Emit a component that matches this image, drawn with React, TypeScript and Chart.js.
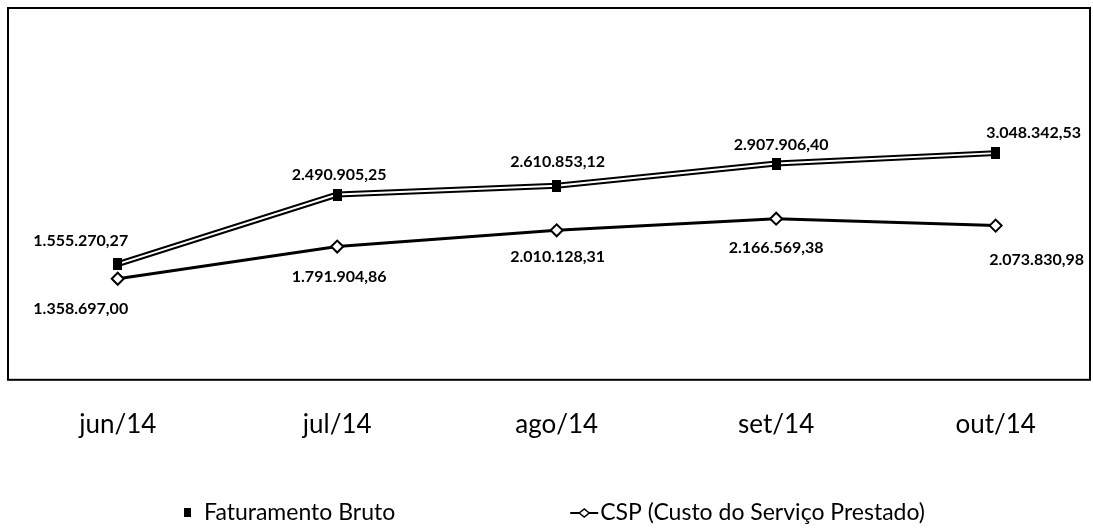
import React, { useEffect, useRef } from "react";
import { Chart, registerables } from "chart.js";

Chart.register(...registerables);

const categories = ["jun/14", "jul/14", "ago/14", "set/14", "out/14"];
const faturamentoBruto = [1555270.27, 2490905.25, 2610853.12, 2907906.4, 3048342.53];
const cspValues = [1358697.0, 1791904.86, 2010128.31, 2166569.38, 2073830.98];
const seriesNames = ["Faturamento Bruto", "CSP (Custo do Serviço Prestado)"];

// label offsets (dx, dy) relative to each point
const fatLabelOffsets = [[-37, -23], [2, -20], [1, -24], [5, -19], [38, -20]];
const cspLabelOffsets = [[-37, 30], [2, 30], [1, 27], [0, 29], [41, 34]];

const FONT = "Lato, sans-serif";

function fmtBR(v: number): string {
  const [int, dec] = v.toFixed(2).split(".");
  const withDots = int.replace(/\B(?=(\d{3})+(?!\d))/g, ".");
  return withDots + "," + dec;
}

function makeRectMarker(): HTMLCanvasElement {
  const c = document.createElement("canvas");
  c.width = 9;
  c.height = 12;
  const g = c.getContext("2d")!;
  g.fillStyle = "#000";
  g.fillRect(0, 0, 9, 12);
  return c;
}

const boxPlugin = {
  id: "boxPlugin",
  beforeDatasetsDraw(chart: any) {
    const { ctx, chartArea } = chart;
    ctx.save();
    ctx.strokeStyle = "#000";
    ctx.lineWidth = 2;
    ctx.strokeRect(chartArea.left, chartArea.top, chartArea.right - chartArea.left, chartArea.bottom - chartArea.top);
    ctx.restore();
  },
};

const doubleLinePlugin = {
  id: "doubleLine",
  afterDatasetDraw(chart: any, args: any) {
    if (args.index !== 0) return;
    const pts = args.meta.data;
    const ctx = chart.ctx;
    ctx.save();
    ctx.strokeStyle = "#fff";
    ctx.lineWidth = 2;
    ctx.beginPath();
    pts.forEach((p: any, i: number) => {
      if (i === 0) ctx.moveTo(p.x, p.y);
      else ctx.lineTo(p.x, p.y);
    });
    ctx.stroke();
    ctx.restore();
    pts.forEach((p: any) => p.draw(ctx, chart.chartArea));
  },
};

const dataLabelPlugin = {
  id: "dataLabels",
  afterDatasetsDraw(chart: any) {
    const ctx = chart.ctx;
    const offsets = [fatLabelOffsets, cspLabelOffsets];
    ctx.save();
    ctx.fillStyle = "#000";
    ctx.font = `bold 16px ${FONT}`;
    ctx.textAlign = "center";
    ctx.textBaseline = "middle";
    chart.data.datasets.forEach((ds: any, di: number) => {
      const meta = chart.getDatasetMeta(di);
      meta.data.forEach((p: any, j: number) => {
        const [dx, dy] = offsets[di][j];
        ctx.fillText(fmtBR(ds.data[j].y), p.x + dx, p.y + dy);
      });
    });
    ctx.restore();
  },
};

const legendPlugin = {
  id: "customLegend",
  afterDraw(chart: any) {
    const ctx = chart.ctx;
    const names = chart.data.datasets.map((d: any) => d.label);
    ctx.save();
    ctx.font = `23px ${FONT}`;
    ctx.fillStyle = "#000";
    ctx.textBaseline = "middle";
    const w1 = ctx.measureText(names[0]).width;
    const w2 = ctx.measureText(names[1]).width;
    const total = 8 + 12 + w1 + 175 + 28 + 2 + w2;
    let x = (chart.width - total) / 2 + 8;
    const y = 513;
    ctx.fillRect(x, y - 5, 7, 9);
    x += 8 + 12;
    ctx.fillText(names[0], x, y);
    x += w1 + 175;
    ctx.strokeStyle = "#000";
    ctx.lineWidth = 2;
    ctx.beginPath();
    ctx.moveTo(x, y);
    ctx.lineTo(x + 28, y);
    ctx.stroke();
    const cx = x + 14;
    ctx.beginPath();
    ctx.moveTo(cx - 5, y);
    ctx.lineTo(cx, y - 4);
    ctx.lineTo(cx + 5, y);
    ctx.lineTo(cx, y + 4);
    ctx.closePath();
    ctx.fillStyle = "#fff";
    ctx.fill();
    ctx.lineWidth = 1.5;
    ctx.stroke();
    ctx.fillStyle = "#000";
    x += 28 + 2;
    ctx.fillText(names[1], x, y);
    ctx.restore();
  },
};

export default function App() {
  const ref = useRef<HTMLCanvasElement | null>(null);

  useEffect(() => {
    if (!ref.current) return;
    const chart = new Chart(ref.current, {
      type: "line",
      data: {
        datasets: [
          {
            label: seriesNames[0],
            data: faturamentoBruto.map((v, i) => ({ x: i, y: v })),
            borderColor: "#000",
            borderWidth: 6,
            pointStyle: makeRectMarker(),
            pointRadius: 5,
            tension: 0,
          },
          {
            label: seriesNames[1],
            data: cspValues.map((v, i) => ({ x: i, y: v })),
            borderColor: "#000",
            borderWidth: 3,
            pointStyle: "rectRot",
            pointRadius: 6,
            pointBackgroundColor: "#fff",
            pointBorderColor: "#000",
            pointBorderWidth: 2,
            tension: 0,
          },
        ],
      },
      options: {
        responsive: false,
        animation: false,
        layout: { autoPadding: false, padding: { left: 8, right: 3, top: 8, bottom: 67 } },
        plugins: {
          legend: { display: false },
          tooltip: { enabled: false },
        },
        scales: {
          x: {
            type: "linear",
            min: -0.5,
            max: 4.43,
            grid: { display: false },
            border: { display: false },
            afterBuildTicks: (s: any) => {
              s.ticks = categories.map((_, i) => ({ value: i }));
            },
            ticks: {
              padding: 21,
              color: "#000",
              font: { family: FONT, size: 26 },
              maxRotation: 0,
              autoSkip: false,
              callback: (v: any) => categories[v as number] ?? "",
            },
          },
          y: {
            display: false,
            min: 0,
            max: 5000000,
          },
        },
      },
      plugins: [boxPlugin, doubleLinePlugin, dataLabelPlugin, legendPlugin],
    });
    return () => chart.destroy();
  }, []);

  return (
    <div style={{ position: "absolute", left: 0, top: 0, width: 1093, height: 528, background: "#fff" }}>
      <canvas ref={ref} width={1093} height={528} style={{ display: "block", width: 1093, height: 528 }} />
    </div>
  );
}
